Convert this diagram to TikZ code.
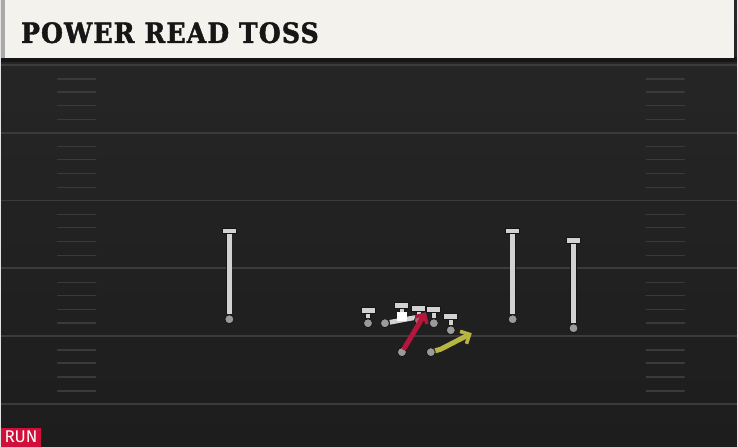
\documentclass[tikz,border=0pt]{standalone}
\usepackage{fontspec}
\newfontfamily\titlefont[FakeStretch=0.9,FakeBold=1.5,LetterSpace=4]{DejaVu Serif}
\newfontfamily\tagfont{Fira Sans}
\usetikzlibrary{arrows.meta}
\definecolor{fieldtop}{HTML}{272727}
\definecolor{fieldbot}{HTML}{1D1D1D}
\definecolor{yardgray}{HTML}{3B3B3B}
\definecolor{hashgray}{HTML}{3A3A3A}
\definecolor{banner}{HTML}{F4F2EC}
\definecolor{bannerside}{HTML}{A9A9A9}
\definecolor{markgray}{HTML}{D2D2D2}
\definecolor{markline}{HTML}{161616}
\definecolor{spotgray}{HTML}{9A9A9A}
\definecolor{runred}{HTML}{B5173C}
\definecolor{tossyellow}{HTML}{B8B643}
\definecolor{tagred}{HTML}{D0103A}
\begin{document}
\begin{tikzpicture}[x=1pt,y=-1pt,
    yard/.style = {draw=yardgray, line width=1.8pt},
    hashmark/.style = {draw=hashgray, line width=1.5pt, line cap=round},
    tbar/.style = {rectangle, draw=markline, fill=markgray, line width=0.9pt, minimum width=14pt, minimum height=6pt, inner sep=0pt},
    spot/.style = {circle, draw=markline, fill=spotgray, line width=0.8pt, minimum size=9pt, inner sep=0pt},
    stem/.style = {draw=markgray, line width=4.4pt, preaction={draw=markline, line width=6.2pt}},
    route/.style = {line width=5pt, line cap=round, line join=round, -{Straight Barb[length=7pt,width=14pt,line width=3.6pt]}}]
    % field and banner
    \fill[top color=fieldtop, bottom color=fieldbot] (0,0) rectangle (738,448);
    \fill[markline] (0,57) rectangle (738,62);
    \fill[banner] (0,0) rectangle (735,58);
    \fill[bannerside] (0,0) rectangle (4,58);
    \node[anchor=base west, inner sep=0pt, text=markline, font=\titlefont\bfseries\fontsize{28}{28}\selectfont] (title) at (20,43) {POWER READ TOSS};
    % yard lines and hashes
    \foreach \yy in {65,133,201,269,337,405}
        \draw[yard] (0,\yy) -- (738,\yy);
    \foreach \yy in {65,133,201,269,337}
        \foreach \off in {14,27,41,55} {
            \draw[hashmark] (57,\yy+\off) -- (95,\yy+\off);
            \draw[hashmark] (647,\yy+\off) -- (685,\yy+\off);
        }
    % pulling line
    \coordinate (pullend) at (417,318);
    \node[spot] (pulldot) at (385,324) {};
    \draw[draw=markline, line width=6.5pt] (pulldot) -- (pullend);
    \draw[draw=markgray, line width=4.8pt] (pulldot) -- (pullend);
    \node[spot] (pulldot2) at (385,324) {};
    % receivers
    \node[tbar] (wra) at (229,231.5) {};
    \node[spot] (wraend) at (229,320) {};
    \node[tbar] (wrb) at (513,231.5) {};
    \node[spot] (wrbend) at (513,320) {};
    \node[tbar] (wrc) at (574,241) {};
    \node[spot] (wrcend) at (574,329) {};
    % line
    \node[tbar] (ola) at (368,311) {};
    \node[spot] (olaend) at (368,324) {};
    \node[tbar] (olb) at (402,306) {};
    \node[rectangle, fill=white, minimum size=9.5pt, inner sep=0pt] (ball) at (402,317.5) {};
    \node[tbar] (olc) at (419,309) {};
    \node[spot, fill=runred!40!spotgray] (olcend) at (419,321) {};
    \node[tbar] (old) at (434,310) {};
    \node[spot] (oldend) at (434,324) {};
    \node[tbar] (te) at (451,317) {};
    \node[spot] (teend) at (451,331) {};
    \foreach \a/\b in {wra/wraend,wrb/wrbend,wrc/wrcend,ola/olaend,olb/ball,olc/olcend,old/oldend,te/teend}
        \draw[stem] (\a) -- (\b);
    % backs
    \coordinate (runtip) at (426,313);
    \node[spot] (rbdot) at (402,353) {};
    \draw[route, draw=runred] (rbdot) -- (runtip);
    \coordinate (tossbend) at (441,350);
    \coordinate (tosstip) at (472,334);
    \node[spot] (tbdot) at (431,353) {};
    \draw[route, draw=tossyellow] (tbdot) -- (tossbend) -- (tosstip);
    \node[spot] (tbdot2) at (431,353) {};
    % tag
    \node[anchor=south west, fill=tagred, text=white, minimum width=40pt, minimum height=19pt, inner sep=0pt, font=\tagfont\fontsize{17}{17}\selectfont] (runtag) at (0,448) {RUN};
\end{tikzpicture}
\end{document}
